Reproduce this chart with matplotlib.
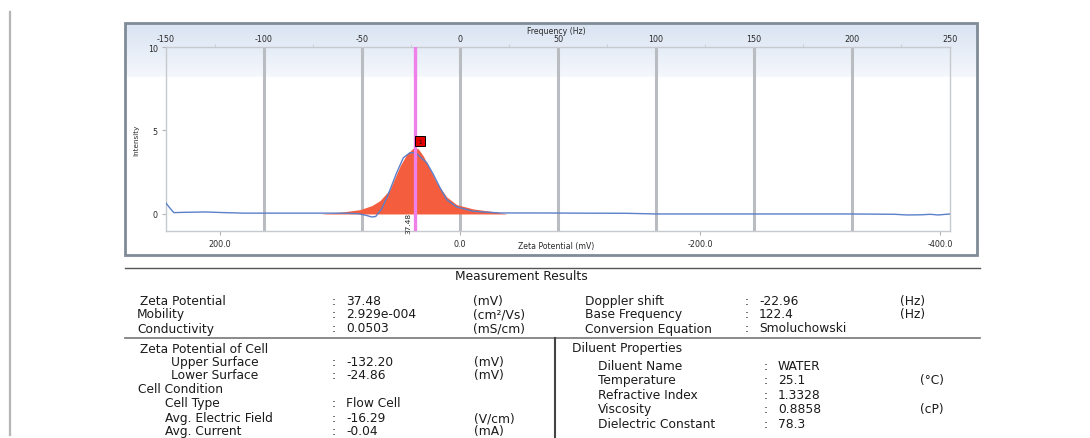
import numpy as np
import matplotlib
matplotlib.use('Agg')
import matplotlib.pyplot as plt
from matplotlib.patches import Rectangle
from matplotlib.lines import Line2D
from matplotlib.transforms import offset_copy

W, H = 1090, 439

# fitted peak (frequency in Hz, intensity)
peak_freq = [-71, -60, -51, -45, -40.8, -35.7, -30.6, -27.2, -23.8, -21.3, -18.7,
             -15.3, -11.9, -6.8, -1.7, 6.8, 17, 24]
peak_int = [0, 0.12, 0.26, 0.5, 0.8, 1.47, 2.87, 3.57, 3.95, 3.9, 3.47,
            2.67, 1.87, 1.02, 0.56, 0.3, 0.14, 0]

# raw spectrum
raw_freq = [-150, -148, -146, -140, -130, -120, -110, -100, -80, -60, -52, -48, -45,
            -43, -40, -37, -32.3, -28.9, -25.5, -22.6, -20.4, -17, -13.6, -10.2, -6.8,
            -1.7, 6.8, 20.4, 40, 60, 85, 100, 150, 200, 222, 228, 235, 240, 244, 250]
raw_int = [0.65, 0.35, 0.08, 0.1, 0.12, 0.08, 0.05, 0.05, 0.05, 0.05, 0.02, -0.08, -0.18,
           -0.15, 0.3, 1.06, 2.47, 3.37, 3.67, 3.67, 3.43, 3.07, 2.37, 1.57, 0.86,
           0.42, 0.16, 0.06, 0.06, 0.05, 0.04, 0.0, 0.0, 0.0, -0.02, -0.06, -0.05, -0.02, -0.06, 0.0]

doppler_shift = -22.96
base_freq = 122.4
zeta_value = "37.48"

freq_ticks = [-150, -100, -50, 0, 50, 100, 150, 200, 250]
grid_freqs = [-100, -50, 0, 50, 100, 150, 200]
zeta_ticks = [200, 0, -200, -400]
int_ticks = [0, 5, 10]

res_left = [("Zeta Potential", "37.48", "(mV)"),
            ("Mobility", "2.929e-004", "(cm²/Vs)"),
            ("Conductivity", "0.0503", "(mS/cm)")]
res_right = [("Doppler shift", "-22.96", "(Hz)"),
             ("Base Frequency", "122.4", "(Hz)"),
             ("Conversion Equation", "Smoluchowski", "")]
cell_rows = [("Zeta Potential of Cell", "", ""),
             ("Upper Surface", "-132.20", "(mV)"),
             ("Lower Surface", "-24.86", "(mV)"),
             ("Cell Condition", "", ""),
             ("Cell Type", "Flow Cell", ""),
             ("Avg. Electric Field", "-16.29", "(V/cm)"),
             ("Avg. Current", "-0.04", "(mA)")]
diluent_rows = [("Diluent Properties", "", ""),
                ("Diluent Name", "WATER", ""),
                ("Temperature", "25.1", "(°C)"),
                ("Refractive Index", "1.3328", ""),
                ("Viscosity", "0.8858", "(cP)"),
                ("Dielectric Constant", "78.3", "")]


def fx(px):
    return px / W


def fy(py):
    return 1 - py / H


plt.rcParams['font.family'] = ['DejaVu Sans']
plt.rcParams['axes.unicode_minus'] = False
fig = plt.figure(figsize=(W / 100, H / 100), dpi=100)

# left page rule
fig.add_artist(Line2D([fx(10), fx(10)], [fy(13), fy(436)], color='#b5b5b5', lw=1.6))

# chart frame with gradient band
bg = fig.add_axes([fx(125), fy(256), fx(977) - fx(125), fy(24) - fy(256)])
bg.set_axis_off()
rows = 232
grad = np.ones((rows, 2, 3))
top_c = np.array([0.85, 0.89, 0.95])
low_c = np.array([0.96, 0.972, 0.988])
band = 54
for i in range(band):
    t = i / (band - 1)
    grad[i, :, :] = top_c * (1 - t) + low_c * t
bg.imshow(grad, aspect='auto', extent=[0, 1, 0, 1], interpolation='bilinear')
bg.set_xlim(0, 1)
bg.set_ylim(0, 1)
fig.add_artist(Rectangle((fx(125), fy(256)), fx(977) - fx(125), fy(24) - fy(256),
                         fill=False, ec='#808b98', lw=2.0))

ax = fig.add_axes([fx(166), fy(232), fx(950) - fx(166), fy(48) - fy(232)])
ax.set_facecolor('none')
ax.set_xlim(-150, 250)
ax.set_ylim(-1.02, 10)

for g in grid_freqs:
    ax.axvline(g, color='#b9bdc2', lw=2.2, zorder=1)

ax.fill_between(peak_freq, peak_int, 0, color='#f45d3e', lw=0, zorder=2)
ax.plot(raw_freq, raw_int, color='#5b7fc9', lw=1.0, zorder=3)
ax.axvline(doppler_shift, color='#ef7fe9', lw=2.4, zorder=4)

# peak marker
top = max(peak_int)
mk = offset_copy(ax.transData, fig=fig, x=3.8, y=5.0, units='points')
ax.plot([doppler_shift], [top], marker='s', ms=7.6, mfc='#e30000', mec='black',
        mew=0.7, transform=mk, zorder=6, clip_on=False)
ax.text(doppler_shift, top, '1', transform=mk, ha='center', va='center',
        fontsize=4.2, color='#111111', zorder=7)
lab = offset_copy(ax.transData, fig=fig, x=-4.4, y=0, units='points')
ax.text(doppler_shift, -0.5, zeta_value, transform=lab, rotation=90, ha='center',
        va='center', fontsize=5.3, color='#222222', zorder=7)

for s in ax.spines.values():
    s.set_color('#c6cacf')
    s.set_linewidth(1.0)

ax.xaxis.tick_top()
ax.set_xticks(freq_ticks)
ax.set_xticks([f + 25 for f in freq_ticks[:-1]], minor=True)
ax.tick_params(axis='x', which='major', length=0, pad=3, labelsize=5.8,
               labelcolor='#2a2a2a')
ax.tick_params(axis='x', which='minor', length=2, color='#c6cacf')
ax.set_yticks(int_ticks)
ax.tick_params(axis='y', length=3, color='#b0b4b9', pad=3, labelsize=5.8,
               labelcolor='#2a2a2a')
ax.set_ylabel('Intensity', fontsize=5.2, labelpad=6, color='#2a2a2a')
fig.text(fx(556), fy(31), 'Frequency (Hz)', fontsize=5.6, ha='center', va='center',
         color='#2a2a2a')

sec = ax.secondary_xaxis('bottom', functions=(lambda f: -f * 200 / base_freq,
                                               lambda z: -z * base_freq / 200))
sec.set_xticks(zeta_ticks)
sec.set_xticklabels([f'{z:.1f}' for z in zeta_ticks])
sec.tick_params(length=3, color='#b0b4b9', pad=3, labelsize=5.8, labelcolor='#2a2a2a')
sec.spines['bottom'].set_visible(False)
fig.text(fx(556), fy(247), 'Zeta Potential (mV)', fontsize=5.6, ha='center',
         va='center', color='#2a2a2a')

# results table
fig.add_artist(Line2D([fx(125), fx(980)], [fy(269), fy(269)], color='#555555', lw=1.0))
fig.add_artist(Line2D([fx(125), fx(980)], [fy(339), fy(339)], color='#777777', lw=1.2))
fig.add_artist(Line2D([fx(555), fx(555)], [fy(339), fy(440)], color='#444444', lw=1.5))
fig.text(fx(521), fy(276), 'Measurement Results', fontsize=8.8, ha='center',
         va='center', color='#1a1a1a')

tkw = dict(fontsize=8.8, va='center', color='#1a1a1a')


def put_rows(rows_, xs, ys, xc, xu):
    for (name, val, unit), x, y in zip(rows_, xs, ys):
        fig.text(fx(x), fy(y), name, **tkw)
        if val:
            fig.text(fx(xc), fy(y), ':', **tkw)
            fig.text(fx(xc + 14), fy(y), val, **tkw)
        if unit:
            fig.text(fx(xu), fy(y), unit, **tkw)


put_rows(res_left, [140, 137, 137], [302, 315, 329], 332, 473)
put_rows(res_right, [585, 585, 585], [302, 315, 329], 745, 900)
put_rows(cell_rows, [140, 171, 171, 138, 165, 165, 165],
         [350, 363, 376, 390, 404, 419, 432], 332, 474)
put_rows(diluent_rows, [572, 598, 598, 598, 598, 598],
         [349, 366, 381, 396, 410, 425], 764, 920)

fig.savefig('out.png', dpi=100)
